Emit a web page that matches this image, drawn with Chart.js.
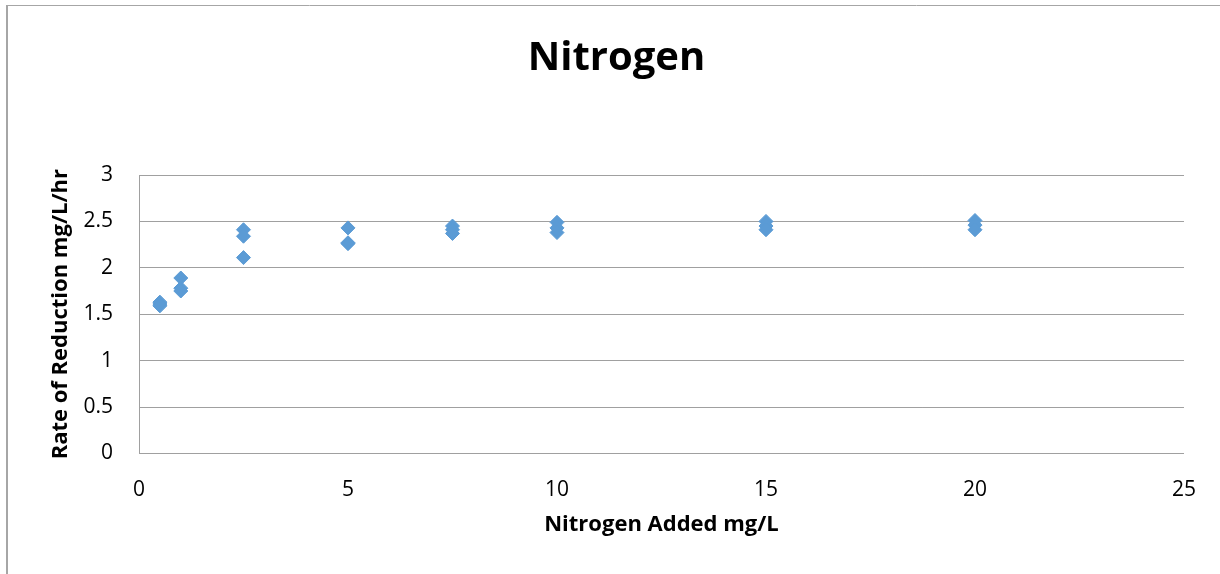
<!DOCTYPE html>
<html>
<head>
<meta charset="utf-8">
<script src="https://cdn.jsdelivr.net/npm/chart.js@4"></script>
<style>
  html, body { margin: 0; padding: 0; background: #fff; }
  #wrap { width: 1220px; height: 574px; position: relative; }
</style>
</head>
<body>
<div id="wrap"><canvas id="chart" width="1220" height="574"></canvas></div>
<script>
// nitrogen added (mg/L) and measured rate of reduction (mg/L/hr), three runs per dose
const nitrogenAdded = [0.5, 0.5, 0.5, 1, 1, 1, 2.5, 2.5, 2.5, 5, 5, 5, 7.5, 7.5, 7.5, 10, 10, 10, 15, 15, 15, 20, 20, 20];
const reductionRate = [1.63, 1.61, 1.59, 1.89, 1.78, 1.75, 2.41, 2.34, 2.11, 2.43, 2.27, 2.26, 2.45, 2.41, 2.37, 2.49, 2.43, 2.38, 2.50, 2.45, 2.41, 2.51, 2.46, 2.41];
const xTicks = [0, 5, 10, 15, 20, 25];
const yTicks = [0, 0.5, 1, 1.5, 2, 2.5, 3];

const points = nitrogenAdded.map((x, i) => ({ x: x, y: reductionRate[i] }));

// grey frame of the chart box (only top and left edges are in view)
const frame = {
    id: 'frame',
    beforeDraw(chart) {
        const c = chart.ctx;
        c.save();
        c.fillStyle = '#fff';
        c.fillRect(0, 0, chart.width, chart.height);
        c.strokeStyle = '#a6a6a6';
        c.lineWidth = 2;
        c.beginPath();
        c.moveTo(7, 5);
        c.lineTo(7, chart.height);
        c.stroke();
        c.lineWidth = 1;
        c.beginPath();
        c.moveTo(6, 5.5);
        c.lineTo(chart.width, 5.5);
        c.stroke();
        c.restore();
    }
};

const ctx = document.getElementById('chart').getContext('2d');
const myChart = new Chart(ctx, {
    type: 'scatter',
    data: {
        datasets: [{
            label: 'Rate of Reduction',
            data: points,
            pointStyle: 'rectRot',
            pointRadius: 7,
            pointHoverRadius: 7,
            backgroundColor: '#5b9bd5',
            borderColor: '#5b9bd5',
            borderWidth: 1
        }]
    },
    options: {
        responsive: false,
        animation: false,
        layout: { padding: { left: 48, right: 35, top: 0, bottom: 36 } },
        plugins: {
            legend: { display: false },
            tooltip: { enabled: false },
            title: {
                display: true,
                text: 'Nitrogen',
                color: '#000',
                font: { family: 'Open Sans', size: 40, weight: 'bold' },
                padding: { top: 35, bottom: 92 }
            }
        },
        scales: {
            x: {
                type: 'linear',
                min: 0,
                max: 25,
                afterBuildTicks: s => { s.ticks = xTicks.map(v => ({ value: v })); },
                grid: { display: false, drawTicks: false },
                border: { display: true, color: '#a0a0a0', width: 1 },
                ticks: {
                    color: '#000',
                    padding: 24,
                    font: { family: 'Open Sans', size: 21 },
                    callback: v => String(v)
                },
                title: {
                    display: true,
                    text: 'Nitrogen Added mg/L',
                    color: '#000',
                    font: { family: 'Open Sans', size: 22, weight: 'bold' },
                    padding: { top: -15, bottom: 0 }
                }
            },
            y: {
                min: 0,
                max: 3,
                afterBuildTicks: s => { s.ticks = yTicks.map(v => ({ value: v })); },
                afterFit: s => { s.width = 91; },
                grid: { color: '#a0a0a0', drawTicks: false },
                border: { display: true, color: '#a0a0a0', width: 1 },
                ticks: {
                    color: '#000',
                    padding: 26,
                    font: { family: 'Open Sans', size: 21 },
                    callback: v => String(v)
                },
                title: {
                    display: true,
                    text: 'Rate of Reduction mg/L/hr',
                    color: '#000',
                    font: { family: 'Open Sans', size: 22, weight: 'bold' },
                    padding: 0
                }
            }
        }
    },
    plugins: [frame]
});
</script>
</body>
</html>
